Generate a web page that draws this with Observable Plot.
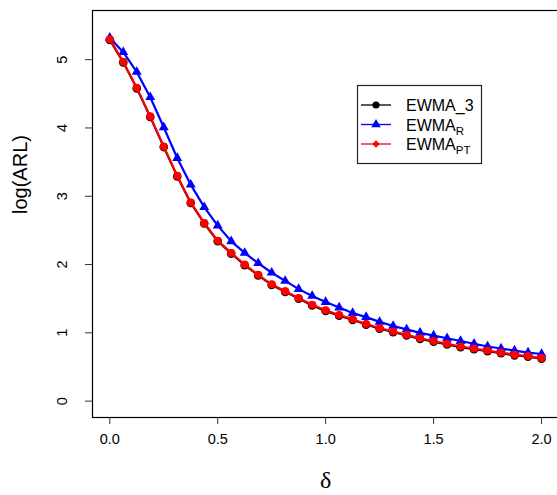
<!DOCTYPE html>
<html><head><meta charset="utf-8">
<script src="https://cdn.jsdelivr.net/npm/d3@7"></script>
<script src="https://cdn.jsdelivr.net/npm/@observablehq/plot@0.6"></script>
<style>
body{margin:0;background:#fff;}
#wrap{position:relative;width:557px;height:495px;overflow:hidden;}
#legend{position:absolute;left:0;top:0;}
</style>
</head><body><div id="wrap"></div>
<script>
const delta = [0, 0.0625, 0.125, 0.1875, 0.25, 0.3125, 0.375, 0.4375, 0.5, 0.5625, 0.625, 0.6875, 0.75, 0.8125, 0.875, 0.9375, 1, 1.0625, 1.125, 1.1875, 1.25, 1.3125, 1.375, 1.4375, 1.5, 1.5625, 1.625, 1.6875, 1.75, 1.8125, 1.875, 1.9375, 2];
const ewma3 = [5.29, 4.96, 4.58, 4.16, 3.72, 3.29, 2.90, 2.60, 2.34, 2.16, 1.99, 1.84, 1.70, 1.60, 1.50, 1.40, 1.32, 1.25, 1.19, 1.12, 1.06, 1.01, 0.96, 0.91, 0.87, 0.83, 0.79, 0.76, 0.73, 0.70, 0.67, 0.65, 0.62];
const ewmaR = [5.32, 5.11, 4.82, 4.45, 4.01, 3.56, 3.17, 2.84, 2.57, 2.34, 2.17, 2.02, 1.88, 1.76, 1.64, 1.54, 1.45, 1.37, 1.29, 1.23, 1.16, 1.10, 1.05, 1.00, 0.96, 0.92, 0.88, 0.84, 0.80, 0.77, 0.74, 0.71, 0.69];
const ewmaPT = [5.30, 4.97, 4.59, 4.17, 3.73, 3.30, 2.91, 2.61, 2.35, 2.17, 2.00, 1.85, 1.71, 1.61, 1.51, 1.41, 1.33, 1.26, 1.20, 1.13, 1.07, 1.02, 0.97, 0.92, 0.88, 0.84, 0.80, 0.77, 0.74, 0.71, 0.68, 0.66, 0.63];
const xTicks = [0, 0.5, 1, 1.5, 2];
const xTickLabels = ["0.0", "0.5", "1.0", "1.5", "2.0"];
const yTicks = [0, 1, 2, 3, 4, 5];
const yTickLabels = ["0", "1", "2", "3", "4", "5"];
const seriesNames = ["EWMA_3", "EWMA", "EWMA"];
const seriesSubs = ["", "R", "PT"];
const seriesColors = ["black", "blue", "red"];

const rows = (vals) => delta.map((d, i) => ({delta: d, arl: vals[i]}));
const d3rows = rows(ewma3), dR = rows(ewmaR), dPT = rows(ewmaPT);

const chart = Plot.plot({
  width: 557, height: 495,
  marginLeft: 92, marginTop: 10, marginBottom: 78, marginRight: -1.3,
  style: {fontFamily: "'Liberation Sans', Arial, sans-serif", fontSize: "14px", background: "white", color: "black"},
  x: {domain: [-0.08, 2.08]},
  y: {domain: [-0.24, 5.72]},
  marks: [
    Plot.frame({stroke: "black", strokeWidth: 1.2}),
    Plot.axisX(xTicks, {tickSize: 7, tickPadding: 9, tickFormat: (d, i) => xTickLabels[i], fontSize: 14.5, label: null, stroke: "#333"}),
    Plot.axisY(yTicks, {tickSize: 7, tickPadding: 19, tickRotate: -90, textAnchor: "middle", tickFormat: (d, i) => yTickLabels[i], fontSize: 14.5, label: null, stroke: "#333"}),
    Plot.line(d3rows, {x: "delta", y: "arl", stroke: seriesColors[0], strokeWidth: 2}),
    Plot.dot(d3rows, {x: "delta", y: "arl", fill: seriesColors[0], r: 4.3}),
    Plot.line(dR, {x: "delta", y: "arl", stroke: seriesColors[1], strokeWidth: 2.2}),
    Plot.dot(dR, {x: "delta", y: "arl", fill: seriesColors[1], symbol: "triangle", r: 3.7}),
    Plot.line(dPT, {x: "delta", y: "arl", stroke: seriesColors[2], strokeWidth: 2.2}),
    Plot.dot(dPT, {x: "delta", y: "arl", fill: seriesColors[2], r: 4}),
    Plot.text(["δ"], {frameAnchor: "bottom", dy: 70, fontSize: 24, fontFamily: "'Liberation Serif', 'DejaVu Serif', serif"}),
    Plot.text(["log(ARL)"], {frameAnchor: "left", dx: -72, rotate: -90, fontSize: 20})
  ]
});
const wrap = document.getElementById("wrap");
wrap.appendChild(chart);

// legend overlay
const lg = d3.select(wrap).append("svg").attr("id", "legend").attr("width", 557).attr("height", 495);
lg.append("rect").attr("x", 357.5).attr("y", 85.5).attr("width", 124).attr("height", 78)
  .attr("fill", "white").attr("stroke", "#222").attr("stroke-width", 1.2);
const rowY = [105, 124.5, 144];
seriesNames.forEach((name, i) => {
  const y = rowY[i];
  lg.append("line").attr("x1", 361).attr("x2", 391).attr("y1", y).attr("y2", y)
    .attr("stroke", seriesColors[i]).attr("stroke-width", 1.3);
  if (i === 0) lg.append("circle").attr("cx", 376).attr("cy", y).attr("r", 3.6).attr("fill", "black");
  if (i === 1) lg.append("path").attr("transform", `translate(376,${y})`).attr("d", d3.symbol(d3.symbolTriangle, 40)()).attr("fill", "blue");
  if (i === 2) lg.append("path").attr("transform", `translate(376,${y}) rotate(45)`).attr("d", "M-2.6,-2.6H2.6V2.6H-2.6Z").attr("fill", "red");
  const t = lg.append("text").attr("x", 406).attr("y", y + 6)
    .attr("font-family", "'Liberation Sans', Arial, sans-serif").attr("font-size", 16).attr("fill", "black");
  t.append("tspan").text(name);
  if (seriesSubs[i]) t.append("tspan").attr("font-size", 11.5).attr("dy", 4).text(seriesSubs[i]);
});
</script>
</body></html>
